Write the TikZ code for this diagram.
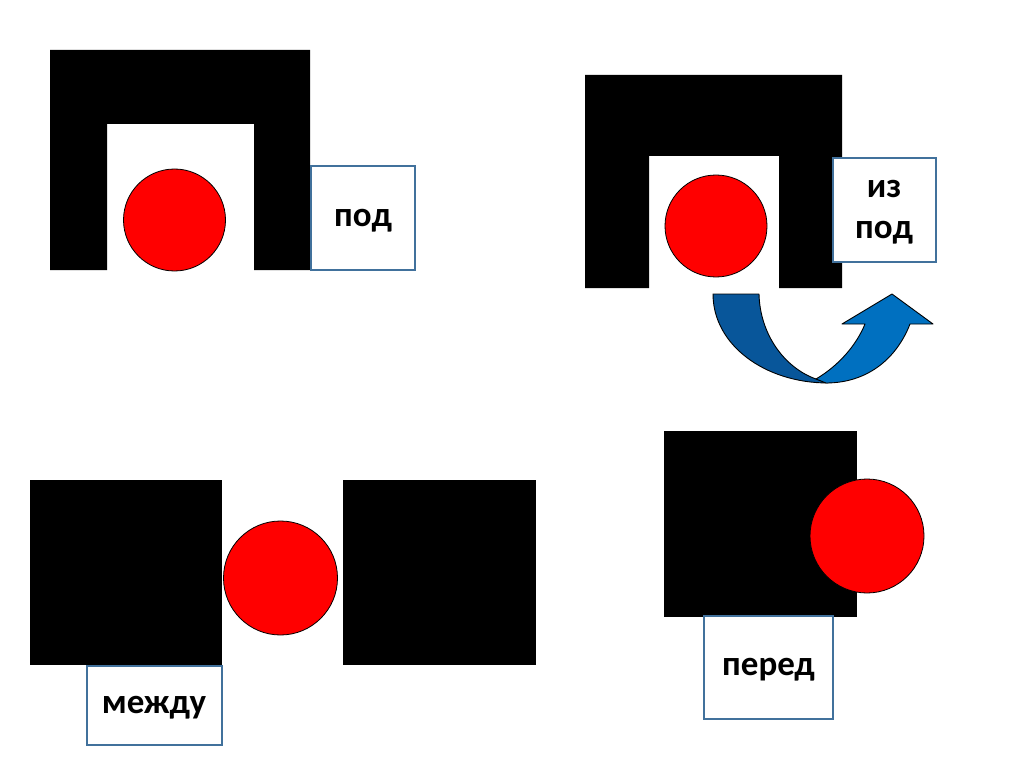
\documentclass[tikz,border=0pt]{standalone}
\usepackage{fontspec}
\setmainfont{Carlito}
\usepackage{tikz}
\definecolor{boxline}{HTML}{41719C}
\definecolor{arrowdark}{HTML}{08569A}
\definecolor{arrowlight}{HTML}{0070C0}
\newcommand{\boxword}[1]{\raisebox{-7pt}{\begin{tabular}{@{}c@{}}#1\end{tabular}}}
\tikzset{
  wordbox/.style={draw=boxline, line width=2pt, fill=white, inner sep=0pt,
    font=\fontsize{35}{41}\selectfont\bfseries},
  ball/.style={fill=red, draw=black, line width=0.8pt},
  uturn/.style={draw=black, line width=0.9pt, line join=round}
}
\begin{document}
\begin{tikzpicture}[x=1pt, y=-1pt]
          \useasboundingbox (0,0) rectangle (1024,767);
          % Top left: under
          \fill (50,50) -- (310,50) -- (310,270) -- (254,270) -- (254,124)
                -- (107,124) -- (107,270) -- (50,270) -- cycle;
          \draw[ball] (174.5,220) circle[radius=51];
          \node[wordbox, minimum width=104pt, minimum height=103pt] (pod) at (363,218) {\boxword{под}};
          
          % Top right: from under
          \fill (585,75) -- (842,75) -- (842,288) -- (779,288) -- (779,156)
                -- (649,156) -- (649,288) -- (585,288) -- cycle;
          \draw[ball] (716,226) circle[radius=51];
          \node[wordbox, minimum width=103pt, minimum height=104pt] (izpod) at (884,210) {\boxword{из\\под}};
          
          % Curved arrow
          \draw[uturn, fill=arrowdark] (713,294) -- (759,294)
                .. controls (760,335) and (785,368) .. (816,379)
                -- (828,383)
                .. controls (765,383) and (713,345) .. (713,294) -- cycle;
          \draw[uturn, fill=arrowlight] (816,379)
                .. controls (838,366) and (856,346) .. (865,324)
                -- (842,324) -- (892,294) -- (933,324) -- (910,324)
                .. controls (896,360) and (866,383) .. (826,383) -- cycle;
          
          % Bottom left: between
          \fill (30,480) rectangle (222,665);
          \fill (343,480) rectangle (536,665);
          \draw[ball] (280.5,578) circle[radius=57];
          \node[wordbox, minimum width=135pt, minimum height=79pt] (mezhdu) at (154,705) {\boxword{между}};
          
          % Bottom right: in front of
          \fill (664,431) rectangle (857,617);
          \draw[ball] (867,536) circle[radius=57];
          \node[wordbox, minimum width=129pt, minimum height=103pt] (pered) at (768.5,667) {\boxword{перед}};
      \end{tikzpicture}
\end{document}
